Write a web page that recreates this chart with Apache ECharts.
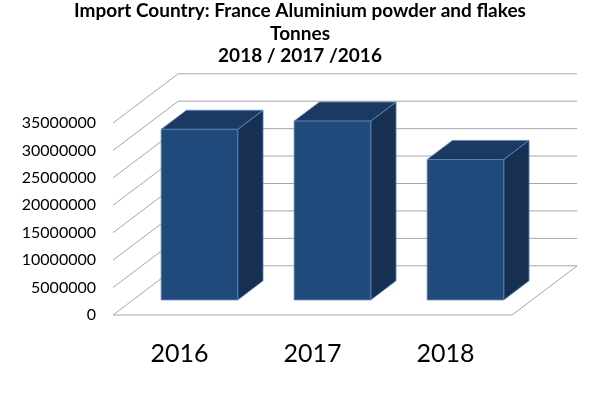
<!DOCTYPE html>
<html>
<head>
<meta charset="utf-8">
<script src="https://cdn.jsdelivr.net/npm/echarts@6/dist/echarts.min.js"></script>
<style>
html, body { margin: 0; padding: 0; background: #fff; }
#chart0 { width: 600px; height: 400px; }
</style>
</head>
<body>
<div id="chart0"></div>
<script>
'use strict';

// data
var years = ['2016', '2017', '2018'];
var tonnes = [31100000, 32600000, 25600000];
var yTicks = [0, 5000000, 10000000, 15000000, 20000000, 25000000, 30000000, 35000000];

var chart0 = echarts.init(document.getElementById('chart0'));

// depth of the 3d box, as a share of one category band
var DEPTH_X = 0.49, DEPTH_Y = 0.37;
var BAR_FRONT = 0.306, BAR_BACK = 0.694, BAR_W = 0.576;

function depth(api) {
	var band = api.size([1, 0])[0];
	return { dx: band * DEPTH_X, dy: band * DEPTH_Y, band: band };
}

// walls and floor
function renderGrid(params, api) {
	var d = depth(api);
	var v = api.value(0);
	var left = api.coord([0, v]);
	var right = api.coord([years.length - 1, v]);
	var x0 = left[0] - d.band / 2, x1 = right[0] + d.band / 2, y = left[1];
	var style = { stroke: '#a6a6a6', lineWidth: 1, fill: null };
	var pts = [[x0, y], [x0 + d.dx, y - d.dy], [x1 + d.dx, y - d.dy]];
	var children = [{ type: 'polyline', shape: { points: pts }, style: style, silent: true }];
	if (v === 0) {
		children.push({
			type: 'polyline', silent: true, style: style,
			shape: { points: [[x0, y], [x1, y], [x1 + d.dx, y - d.dy]] }
		});
	}
	return { type: 'group', children: children };
}

function renderBar(params, api) {
	var d = depth(api);
	var c = api.coord([api.value(0), api.value(1)]);
	var base = api.coord([api.value(0), 0]);
	var fx = d.dx * BAR_FRONT, fy = d.dy * BAR_FRONT;
	var bx = d.dx * (BAR_BACK - BAR_FRONT), by = d.dy * (BAR_BACK - BAR_FRONT);
	var w = d.band * BAR_W;
	var xl = c[0] - w / 2 + fx, xr = xl + w;
	var yt = c[1] - fy, yb = base[1] - fy;
	var edge = '#5b8ac0';
	return {
		type: 'group',
		children: [{
			type: 'polygon',
			shape: { points: [[xr, yt], [xr + bx, yt - by], [xr + bx, yb - by], [xr, yb]] },
			style: { fill: '#172f50', stroke: edge, lineWidth: 0.8 }
		}, {
			type: 'polygon',
			shape: { points: [[xl, yt], [xl + bx, yt - by], [xr + bx, yt - by], [xr, yt]] },
			style: { fill: '#1b3961', stroke: edge, lineWidth: 0.8 }
		}, {
			type: 'rect',
			shape: { x: xl, y: yt, width: w, height: yb - yt },
			style: { fill: '#214a7c', stroke: edge, lineWidth: 0.8 }
		}]
	};
}

var bar_data = [];
for (var i = 0; i < years.length; i++) {
	bar_data.push([i, tonnes[i]]);
}
var grid_data = [];
for (var j = 0; j < yTicks.length; j++) {
	grid_data.push([yTicks[j]]);
}

chart0.setOption({
	animation : false,
	title : {
		text : 'Import Country: France Aluminium powder and flakes\nTonnes\n2018 / 2017 /2016',
		left : 'center',
		top : -5,
		textStyle : {
			fontFamily : 'Lato',
			fontWeight : 'bold',
			fontSize : 19,
			lineHeight : 22.5,
			color : '#000'
		}
	},
	grid : {
		left : 113,
		right : 88,
		top : 123,
		bottom : 85
	},
	xAxis : {
		type : 'category',
		data : years,
		axisLine : { show : false },
		axisTick : { show : false },
		axisLabel : {
			margin : 26,
			fontFamily : 'Lato',
			fontSize : 25,
			color : '#000'
		}
	},
	yAxis : {
		type : 'value',
		min : 0,
		max : 35000000,
		interval : 5000000,
		splitLine : { show : false },
		axisLine : { show : false },
		axisTick : { show : false },
		axisLabel : {
			margin : 17,
			fontFamily : 'Lato',
			fontSize : 16,
			color : '#000',
			formatter : function(v) { return String(v); }
		}
	},
	series : [ {
		type : 'custom',
		renderItem : renderGrid,
		encode : { y : 0 },
		data : grid_data,
		silent : true,
		z : 1
	}, {
		type : 'custom',
		renderItem : renderBar,
		encode : { x : 0, y : 1 },
		data : bar_data,
		z : 2
	} ]
});
</script>
</body>
</html>
